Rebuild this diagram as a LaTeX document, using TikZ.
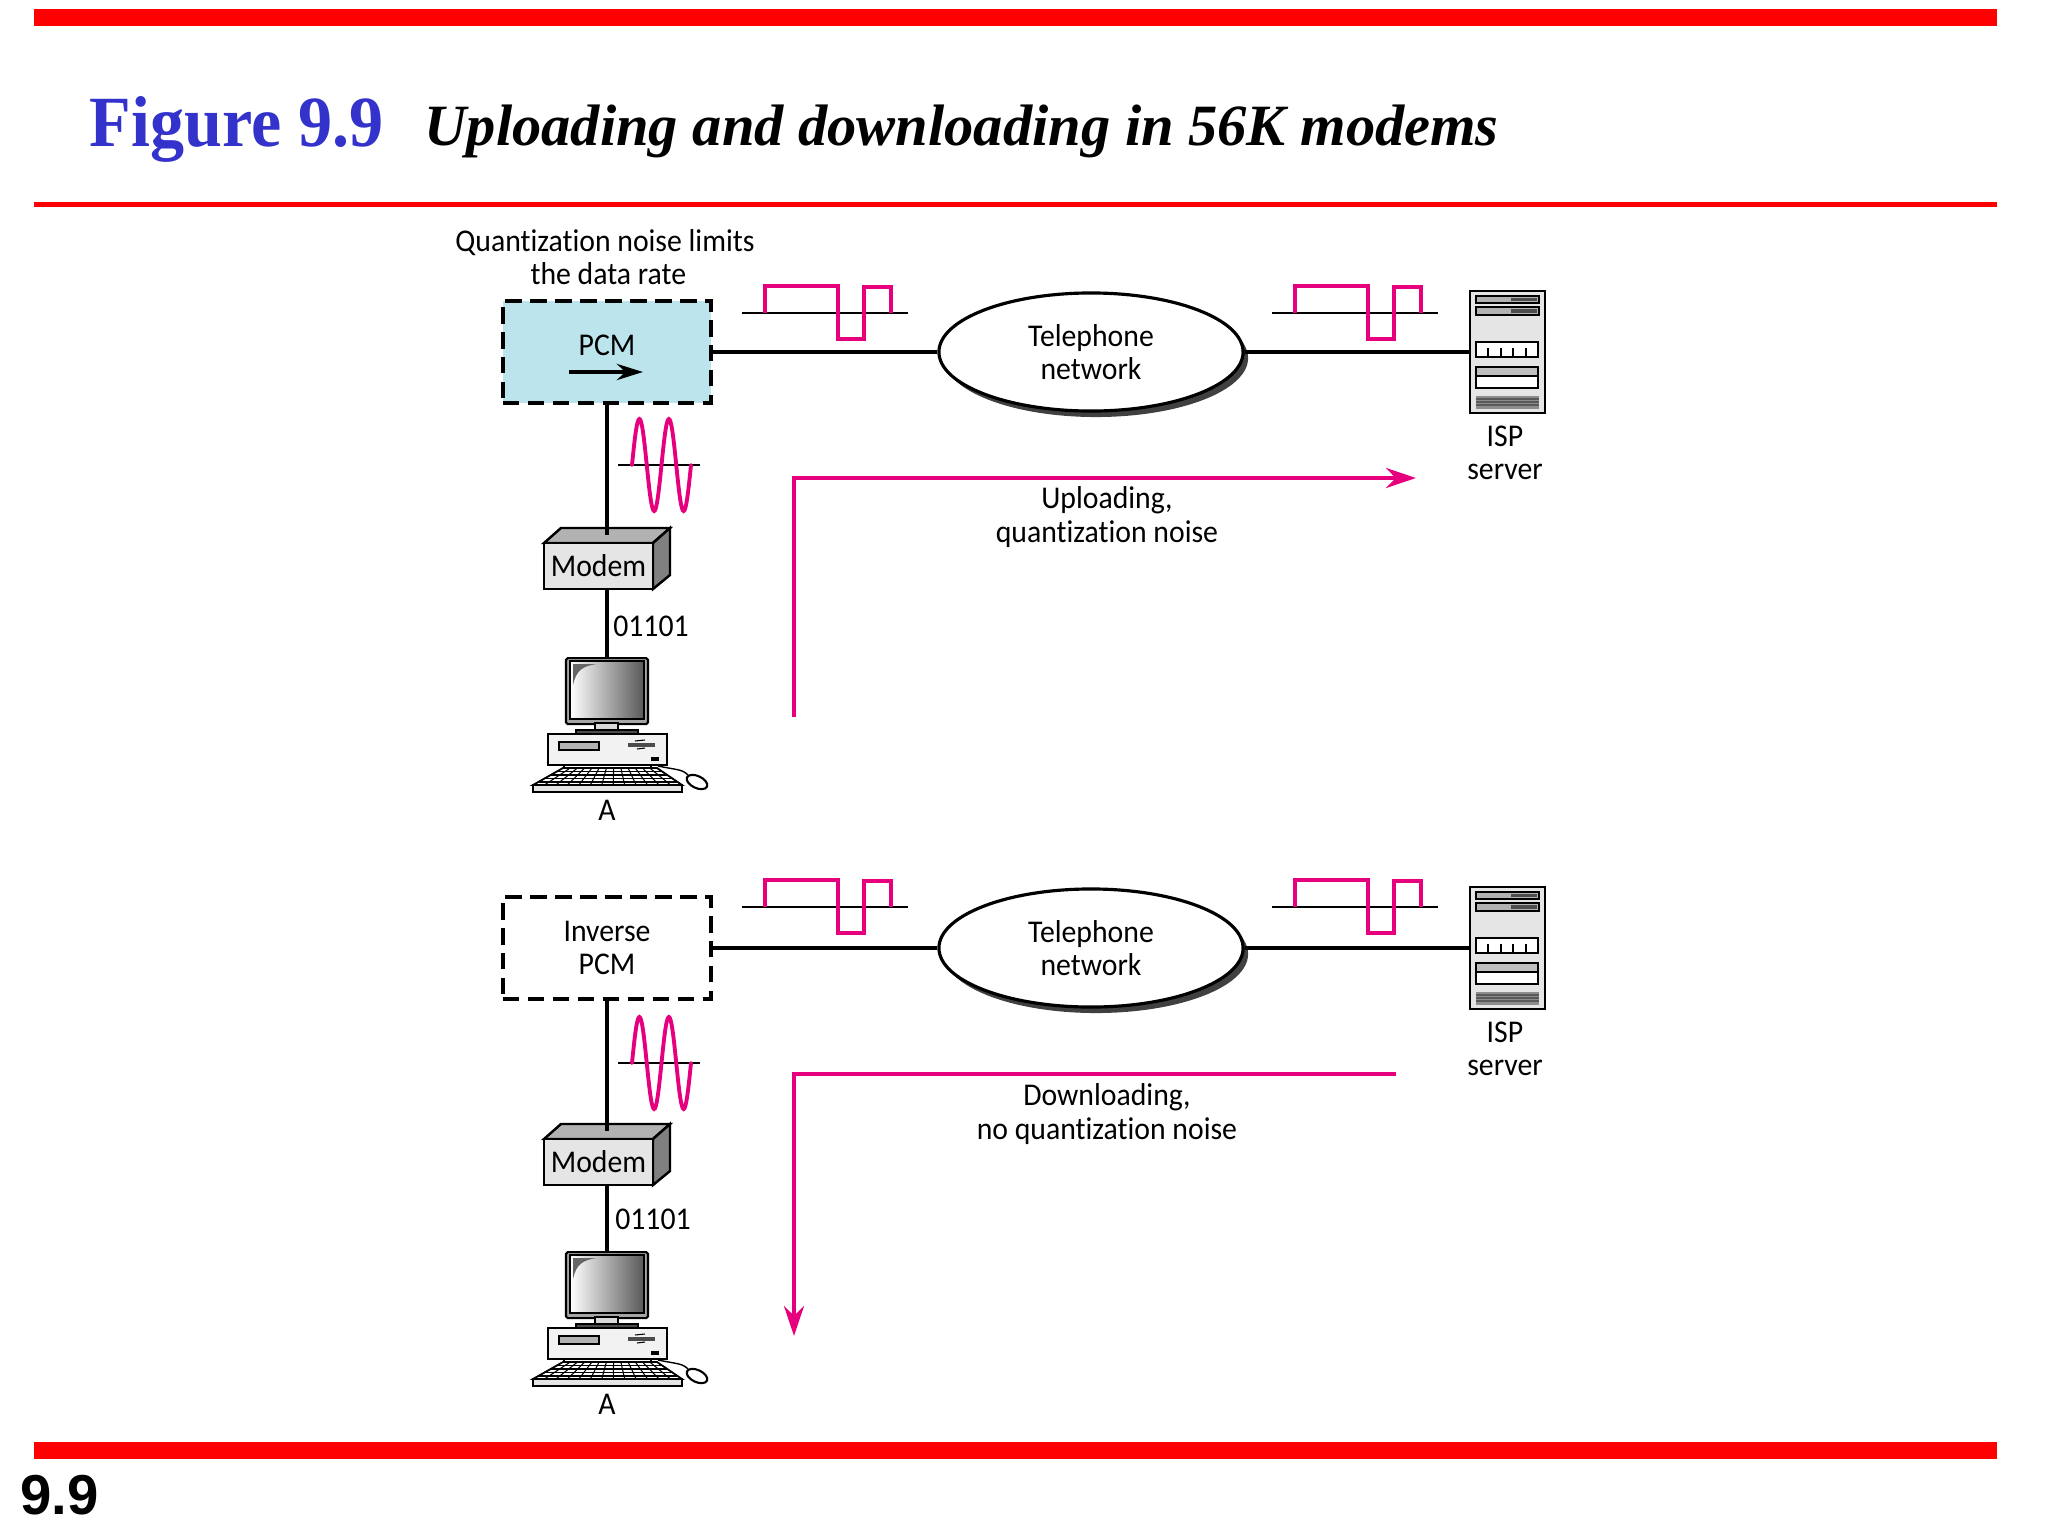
\documentclass[tikz,border=0pt]{standalone}
\usepackage{fontspec}
\usepackage{xcolor}
\setmainfont[Ligatures=NoCommon, FakeStretch=0.94]{Carlito}
\newfontfamily\figfont[FakeStretch=0.945]{Liberation Serif}
\newfontfamily\titlefont{Liberation Serif}
\newfontfamily\pagefont{Liberation Sans}
\usetikzlibrary{arrows.meta,shapes.geometric,shadows}
\definecolor{barred}{HTML}{FF0000}
\definecolor{signalpink}{HTML}{E6007E}
\definecolor{pcmblue}{HTML}{BCE4EC}
\definecolor{titleblue}{HTML}{3333CC}
\tikzset{
    wire/.style={line width=1pt},
    signal/.style={draw=signalpink, line width=1pt},
    flow/.style={draw=signalpink, line width=1.25pt, -{Stealth[length=0.3cm, width=0.2cm]}},
    label/.style={inner sep=0pt, align=center, font=\fontsize{9}{9.5}\selectfont},
    pcmbox/.style={draw, line width=0.9pt, dash pattern=on 4.7pt off 2.4pt, minimum width=2.08cm, minimum height=1.02cm, label},
    cloud/.style={ellipse, draw, fill=white, line width=0.9pt, minimum width=3.04cm, minimum height=1.18cm, label,
        drop shadow={opacity=1, fill=black!75, shadow xshift=0.05cm, shadow yshift=-0.06cm}},
    modembox/.pic={
        \draw[line width=0.7pt, fill=black!30] (-54.5,-23) -- (-37.5,-38) -- (71.5,-38) -- (54.5,-23) -- cycle;
        \draw[line width=0.7pt, fill=black!50] (54.5,-23) -- (71.5,-38) -- (71.5,9) -- (54.5,23) -- cycle;
        \node[draw, line width=0.7pt, fill=black!10, minimum width=1.09cm, minimum height=0.46cm, label] (-face) at (0,0) {Modem};
        \coordinate (-wire) at (8.5,-31);
    },
    computer/.pic={
        \node[draw, line width=0.6pt, rounded corners=0.5pt, fill=black!35, minimum width=0.82cm, minimum height=0.66cm, anchor=north] (-monitor) at (0,0) {};
        \shade[left color=white, right color=black!65, draw=black, line width=0.4pt] (-37,4) rectangle (37,62);
        \fill[black!60] (-34,7) -- (-10,7) .. controls (-25,9) and (-31,14) .. (-34,28) -- cycle;
        \draw[line width=0.5pt, fill=black!15] (-12,66) rectangle (11,73);
        \draw[line width=0.5pt, fill=black!70] (-31,73) rectangle (31,77);
        \draw[line width=0.7pt, fill=black!5] (-59,77) rectangle (60,108);
        \draw[line width=0.4pt, fill=black!30] (-48,85) rectangle (-8,93);
        \fill[black!70] (21,86) rectangle (48,90);
        \draw[line width=0.3pt] (28,84) -- (38,83) (30,92) -- (38,91);
        \fill[black] (44,100) rectangle (52,104);
        \draw[line width=0.7pt] (-43,108) -- (-43,111) (44,108) -- (44,111);
        \draw[line width=0.5pt, fill=white] (-44,111) -- (50,111) -- (75,128) -- (-74,128) -- cycle;
        \foreach \i in {0,...,13}
            \draw[line width=0.3pt] ({-44+\i*94/13},111) -- ({-74+\i*149/13},128);
        \foreach \yy/\xa/\xb in {114.5/-50/55, 118/-56/60, 121.5/-63/65, 125/-69/71}
            \draw[line width=0.3pt] (\xa,\yy) -- (\xb,\yy);
        \draw[line width=0.6pt, fill=black!10] (-74,128) rectangle (75,135);
        \draw[line width=0.4pt] (51,109) .. controls (70,113) and (75,112) .. (81,118);
        \draw[line width=0.6pt, fill=white, rotate around={-25:(90,125)}] (90,125) ellipse [x radius=11, y radius=6];
    },
    server/.pic={
        \node[draw, line width=0.75pt, fill=black!10, minimum width=0.75cm, minimum height=1.22cm] (-case) at (0,0) {};
        \draw[line width=0.5pt, fill=black!30] (-31.5,-56) rectangle (31.5,-49);
        \fill[black!70] (3.5,-54) rectangle (29.5,-51);
        \draw[line width=0.5pt, fill=black!30] (-31.5,-45) rectangle (31.5,-37);
        \fill[black!70] (3.5,-43) rectangle (29.5,-39);
        \draw[line width=0.5pt, fill=white] (-31.5,-10) rectangle (30.5,5);
        \foreach \xx in {-19.5,-6.5,5.5,18.5}
            \draw[line width=0.4pt] (\xx,-4) -- (\xx,5);
        \draw[line width=0.5pt, fill=white] (-31.5,15) rectangle (30.5,36);
        \draw[line width=0.5pt, fill=black!25] (-31.5,15) rectangle (30.5,24);
        \fill[black!45] (-32,44) rectangle (31,57);
        \foreach \yy in {47,50,53}
            \draw[black!65, line width=0.3pt] (-32,\yy) -- (31,\yy);
    },
    squarewave/.pic={
        \draw[wire, line width=0.7pt] (-23,0) -- (143,0);
        \draw[signal] (0,0) -- (0,-27) -- (73,-27) -- (73,26) -- (99,26) -- (99,-26) -- (126,-26) -- (126,0);
    },
    sinewave/.pic={
        \draw[wire, line width=0.7pt] (-14,0) -- (68,0);
        \draw[signal, line width=1.1pt, line cap=round] plot[domain=0:720, samples=73, smooth] ({\x/720*59}, {-46*sin(\x)});
    },
}
\begin{document}
\begin{tikzpicture}
    \tikzset{x={(0.01cm, 0cm)}, y={(0cm, -0.01cm)}}
    \useasboundingbox (0,0) rectangle (2048,1536);
    % page frame
    \fill[barred] (34, 9) rectangle (1997, 26);
    \fill[barred] (34, 202) rectangle (1997, 207);
    \fill[barred] (34, 1442) rectangle (1997, 1459);
    \node[anchor=base west, inner sep=0pt, text=titleblue, font=\figfont\bfseries\fontsize{20.5}{22}\selectfont] (figno) at (89, 146) {Figure 9.9};
    \node[anchor=base west, inner sep=0pt, font=\titlefont\bfseries\itshape\fontsize{16.63}{18}\selectfont] (title) at (424, 145) {Uploading and downloading in 56K modems};
    \node[anchor=base west, inner sep=0pt, font=\pagefont\bfseries\fontsize{16}{17}\selectfont] (pageno) at (20, 1514) {9.9};

    % uploading
    \node[label] (limits) at (605, 257) {Quantization noise limits\\\ the data rate};
    \node[pcmbox, fill=pcmblue] (pcm) at (607, 352) {};
    \node[label] (pcmtext) at (607, 345) {PCM};
    \coordinate (pcmfrom) at (569, 372);
    \coordinate (pcmto) at (643, 372);
    \draw[line width=1.3pt, -{Stealth[length=0.26cm, width=0.16cm]}] (pcmfrom) -- (pcmto);
    \node[cloud] (neta) at (1091, 352) {Telephone\\network};
    \pic (ispa) at (1507.5, 352) {server};
    \node[label] (ispatext) at (1505, 453) {ISP\\server};
    \pic (modema) at (598.5, 566) {modembox};
    \node[label] (bitsa) at (651, 626) {01101};
    \pic (pca) at (607, 657) {computer};
    \node[label] (hosta) at (607, 810) {A};
    \draw[wire] (pcm.east) -- (neta.west);
    \draw[wire] (neta.east) -- (ispa-case.west);
    \draw[wire] (pcm.south) -- (modema-wire);
    \draw[wire] (modema-face.south -| pca-monitor.north) -- (pca-monitor.north);
    \pic (squarea) at (765, 313) {squarewave};
    \pic (squareb) at (1295, 313) {squarewave};
    \pic (sinea) at (632, 465) {sinewave};
    \coordinate (upstart) at (794, 717);
    \coordinate (upcorner) at (794, 478);
    \coordinate (upend) at (1416, 478);
    \draw[flow] (upstart) -- (upcorner) -- (upend);
    \node[label] (uptext) at (1107, 517) {Uploading,\\quantization noise};

    % downloading
    \node[pcmbox] (inv) at (607, 948) {Inverse\\PCM};
    \node[cloud] (netb) at (1091, 948) {Telephone\\network};
    \pic (ispb) at (1507.5, 948) {server};
    \node[label] (ispbtext) at (1505, 1049) {ISP\\server};
    \pic (modemb) at (598.5, 1162) {modembox};
    \node[label] (bitsb) at (653, 1219) {01101};
    \pic (pcb) at (607, 1251) {computer};
    \node[label] (hostb) at (607, 1404) {A};
    \draw[wire] (inv.east) -- (netb.west);
    \draw[wire] (netb.east) -- (ispb-case.west);
    \draw[wire] (inv.south) -- (modemb-wire);
    \draw[wire] (modemb-face.south -| pcb-monitor.north) -- (pcb-monitor.north);
    \pic (squarec) at (765, 907) {squarewave};
    \pic (squared) at (1295, 907) {squarewave};
    \pic (sineb) at (632, 1063) {sinewave};
    \coordinate (downstart) at (1396, 1074);
    \coordinate (downcorner) at (794, 1074);
    \coordinate (downend) at (794, 1336);
    \draw[flow] (downstart) -- (downcorner) -- (downend);
    \node[label] (downtext) at (1107, 1114) {Downloading,\\no quantization noise};
\end{tikzpicture}
\end{document}
